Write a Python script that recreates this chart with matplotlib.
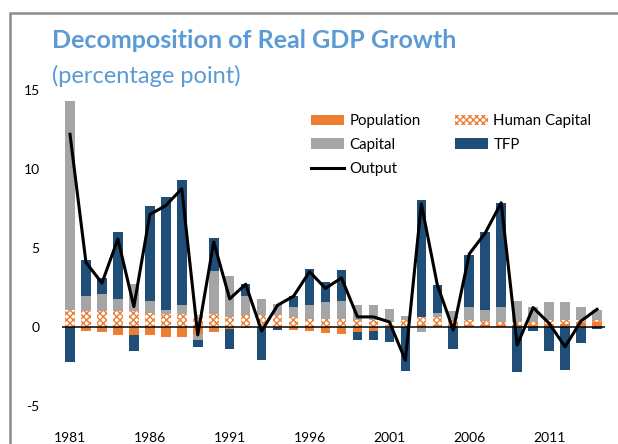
import matplotlib
matplotlib.use("Agg")
import matplotlib.pyplot as plt
from matplotlib.patches import Rectangle, Patch
from matplotlib.lines import Line2D
import numpy as np

plt.rcParams['font.family'] = ['Lato', 'DejaVu Sans']
plt.rcParams['hatch.linewidth'] = 1.0

years = list(range(1981, 2015))
population = [0.0, -0.23, -0.34, -0.53, -0.53, -0.53, -0.64, -0.64, -0.44, -0.34,
              -0.10, -0.05, 0.0, -0.08, -0.17, -0.25, -0.36, -0.47, -0.32, -0.25,
              -0.05, 0.0, 0.10, 0.10, 0.10, 0.10, 0.10, 0.10, 0.10, 0.15,
              0.20, 0.20, 0.25, 0.30]
human_capital = [1.08, 1.0, 1.0, 1.0, 1.0, 0.91, 0.83, 0.83, 0.76, 0.83,
                 0.64, 0.74, 0.74, 0.74, 0.64, 0.53, 0.53, 0.53, 0.42, 0.42,
                 0.32, 0.42, 0.51, 0.51, 0.39, 0.34, 0.30, 0.24, 0.24, 0.19,
                 0.25, 0.25, 0.20, 0.15]
capital = [13.2, 0.97, 1.08, 0.78, 1.73, 0.76, 0.27, 0.57, -0.38, 2.69,
           2.56, 1.23, 1.02, 0.70, 0.63, 0.85, 1.04, 1.12, 0.96, 0.96,
           0.85, 0.26, -0.34, 0.30, 0.53, 0.85, 0.68, 0.95, 1.33, 0.95,
           1.14, 1.14, 0.84, 0.63]
tfp = [-2.2, 2.29, 1.01, 4.22, -0.97, 5.98, 7.12, 7.9, -0.47, 2.09,
       -1.3, 0.74, -2.08, -0.10, 0.68, 2.29, 1.25, 1.93, -0.53, -0.60,
       -0.90, -2.78, 7.42, 1.72, -1.40, 3.29, 4.94, 6.57, -2.84, -0.23,
       -1.50, -2.73, -1.04, -0.15]
output = [12.2, 4.09, 2.78, 5.57, 1.29, 7.12, 7.69, 8.75, -0.5, 5.38,
          1.78, 2.71, -0.25, 1.38, 1.95, 3.5, 2.44, 3.11, 0.64, 0.64,
          0.32, -2.1, 7.8, 2.67, -0.19, 4.62, 5.95, 7.86, -1.14, 1.23,
          0.23, -1.25, 0.38, 1.12]
xtick_labels = ['1981', '1986', '1991', '1996', '2001', '2006', '2011']
ytick_values = [-5, 0, 5, 10, 15]

ORANGE = '#ED7D31'
GRAY = '#A5A5A5'
BLUE = '#1F4E79'
TITLE_BLUE = '#5B9BD5'

W, H = 618, 444
fig = plt.figure(figsize=(W / 100, H / 100), dpi=100)

# outer border (left and top visible)
fig.patches.append(Rectangle((10 / W, -0.1), 1.2, (1 - 13 / H) + 0.1,
                             transform=fig.transFigure, fill=False,
                             edgecolor='#8C8C8C', linewidth=1.8))

ax = fig.add_axes([62 / W, 1 - 428 / H, (605 - 62) / W, (428 - 90) / H])
x = np.array(years, dtype=float)
series = [(population, dict(color=ORANGE)),
          (human_capital, dict(facecolor='white', edgecolor=ORANGE, hatch='xxxxx', linewidth=0)),
          (capital, dict(color=GRAY)),
          (tfp, dict(color=BLUE))]
pos_base = np.zeros(len(x))
neg_base = np.zeros(len(x))
bw = 0.6
for vals, style in series:
    v = np.array(vals)
    bottoms = np.where(v >= 0, pos_base, neg_base)
    ax.bar(x, v, bw, bottom=bottoms, zorder=2, **style)
    pos_base = pos_base + np.where(v >= 0, v, 0)
    neg_base = neg_base + np.where(v < 0, v, 0)

ax.axhline(0, color='black', linewidth=1.1, zorder=3)
ax.plot(x, output, color='black', linewidth=2.2, zorder=4)

ax.set_xlim(1980.5, 2014.5)
ax.set_ylim(-(428 - 327) / 15.8, 15)
for s in ax.spines.values():
    s.set_visible(False)
ax.set_xticks([int(t) for t in xtick_labels])
ax.set_xticklabels(xtick_labels)
ax.set_yticks(ytick_values)
ax.set_yticklabels([str(v) for v in ytick_values])
ax.tick_params(axis='both', length=0, labelsize=10, colors='black')
ax.tick_params(axis='y', pad=16)
ax.tick_params(axis='x', pad=3)

fig.text(52 / W, 1 - 40 / H, 'Decomposition of Real GDP Growth', color=TITLE_BLUE,
         fontsize=18, fontweight='bold', va='center', ha='left')
fig.text(52 / W, 1 - 76 / H, '(percentage point)', color=TITLE_BLUE,
         fontsize=17, va='center', ha='left')

handles = [Patch(facecolor=ORANGE, edgecolor='none', label='Population'),
           Patch(facecolor=GRAY, edgecolor='none', label='Capital'),
           Line2D([0], [0], color='black', linewidth=2.2, label='Output'),
           Patch(facecolor='white', edgecolor=ORANGE, hatch='xxxxx', linewidth=0, label='Human Capital'),
           Patch(facecolor=BLUE, edgecolor='none', label='TFP')]
fig.legend(handles=handles, ncol=2, loc='upper left',
           bbox_to_anchor=(311 / W, 1 - 114 / H), frameon=False,
           fontsize=10.8, handlelength=2.2, handletextpad=0.35,
           columnspacing=2.3, labelspacing=0.66, borderpad=0, borderaxespad=0)

fig.savefig('out.png', dpi=100)
